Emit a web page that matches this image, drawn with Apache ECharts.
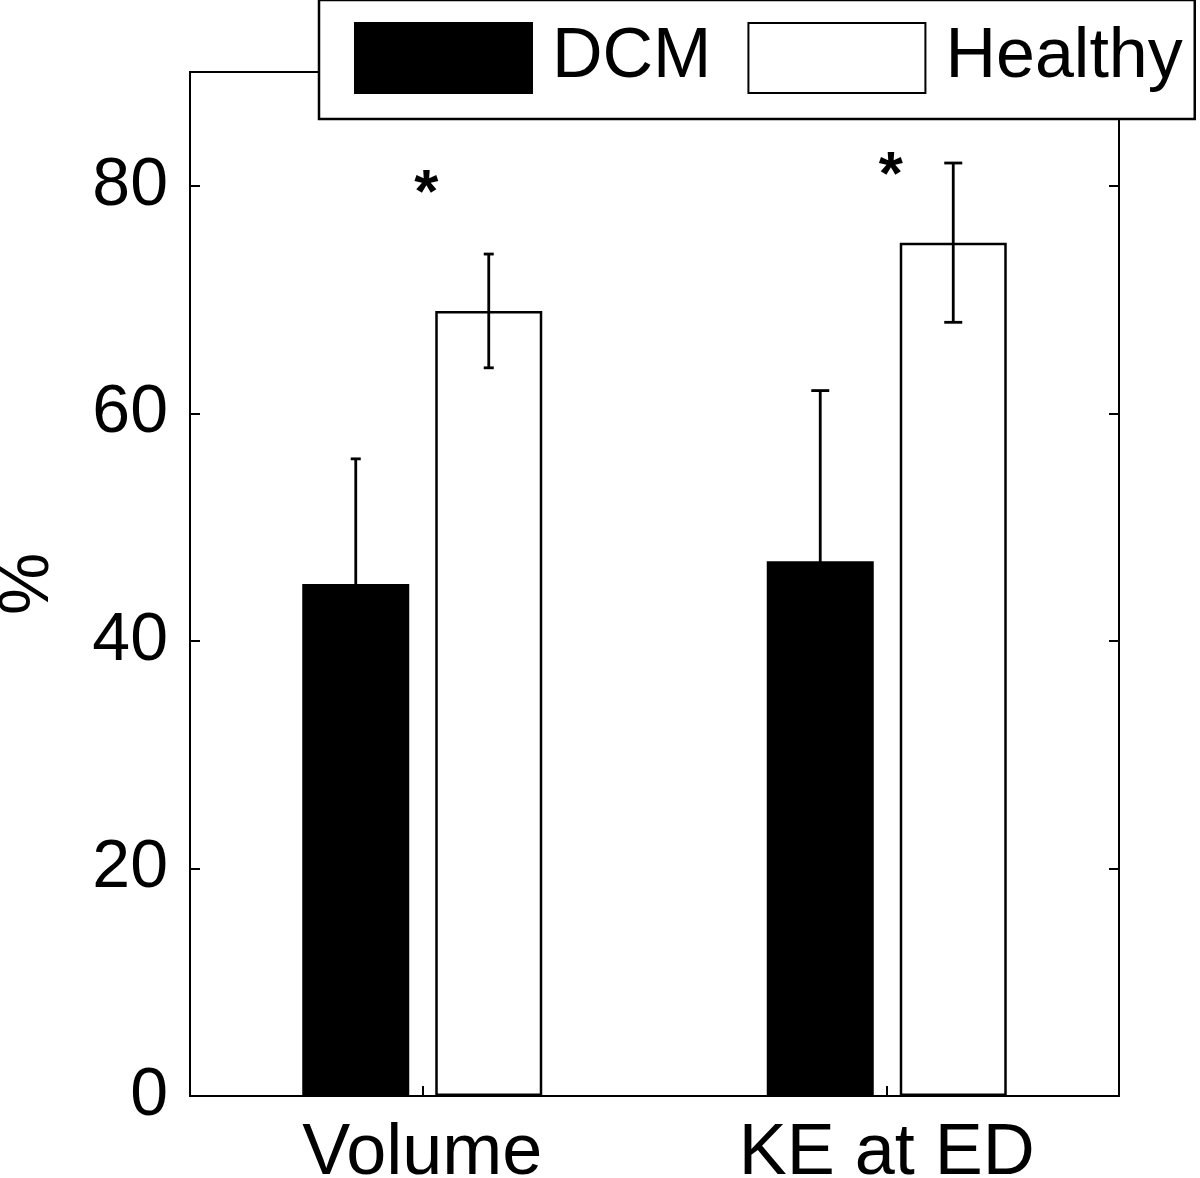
<!DOCTYPE html>
<html>
<head>
<meta charset="utf-8">
<script src="https://cdn.jsdelivr.net/npm/echarts@6/dist/echarts.min.js"></script>
<style>html,body{margin:0;padding:0;background:#fff}#c{width:1200px;height:1178px}</style>
</head>
<body>
<div id="c"></div>
<script>
const categories = ['Volume', 'KE at ED'];
const dcmMean = [45, 47];
const dcmSD = [11, 15];
const healthyMean = [69, 75];
const healthySD = [5, 7];
const sigMarks = ['*', '*'];
const sigY = [80, 81.6];
const yTicks = [0, 20, 40, 60, 80];

const FONT = "'Liberation Sans', Arial, sans-serif";
const BAR_W = 107, GAP_PX = 26;
const HALF_OFF = (BAR_W + GAP_PX) / 2;
const capHalf = [5, 9];

const chart = echarts.init(document.getElementById('c'), null, {renderer: 'canvas'});

function errItem(offsetSign) {
  return function (params, api) {
    const i = api.value(0);
    const m = api.value(1), s = api.value(2);
    const top = api.coord([i, m + s]);
    const bot = api.coord([i, m - s]);
    const x = top[0] + offsetSign * HALF_OFF;
    const c = capHalf[params.dataIndex];
    const st = {stroke: '#000', lineWidth: 2.8};
    return {type: 'group', children: [
      {type: 'line', shape: {x1: x, y1: top[1], x2: x, y2: bot[1]}, style: st},
      {type: 'line', shape: {x1: x - c, y1: top[1], x2: x + c, y2: top[1]}, style: st},
      {type: 'line', shape: {x1: x - c, y1: bot[1], x2: x + c, y2: bot[1]}, style: st}
    ]};
  };
}

const axisFont = {fontFamily: FONT, fontSize: 68, color: '#000'};

chart.setOption({
  animation: false,
  backgroundColor: '#fff',
  grid: {left: 190, right: 81, top: 72, bottom: 82, show: true, borderColor: '#000', borderWidth: 2,
    backgroundColor: 'transparent', containLabel: false, outerBoundsMode: 'none'},
  legend: {
    orient: 'horizontal',
    left: 319, top: 0, width: 1000,
    padding: [22, 12, 25, 35],
    itemWidth: 177, itemHeight: 70, itemGap: 36,
    icon: 'rect',
    borderColor: '#000', borderWidth: 2.5,
    backgroundColor: '#fff',
    z: 20,
    textStyle: {fontFamily: FONT, fontSize: 70, color: '#000', padding: [0, 0, 0, 15]},
    data: ['DCM', 'Healthy']
  },
  xAxis: {
    type: 'category', data: categories,
    axisLine: {show: true, lineStyle: {color: '#000', width: 2}},
    axisTick: {show: true, inside: true, alignWithLabel: true, length: 10, lineStyle: {color: '#000', width: 2}},
    axisLabel: {margin: 22, fontFamily: FONT, fontSize: 72, color: '#000'},
    splitLine: {show: false}
  },
  yAxis: [{
    type: 'value', min: 0, max: 90, interval: 20,
    name: '%', nameLocation: 'middle', nameGap: 126, nameRotate: 90,
    nameTextStyle: {fontFamily: FONT, fontSize: 70, color: '#000'},
    axisLine: {show: true, lineStyle: {color: '#000', width: 2}},
    axisTick: {show: true, inside: true, length: 10, lineStyle: {color: '#000', width: 2}},
    axisLabel: Object.assign({margin: 22, showMaxLabel: false,
      formatter: v => yTicks.indexOf(v) >= 0 ? String(v) : ''}, axisFont),
    splitLine: {show: false}
  }, {
    type: 'value', min: 0, max: 90, interval: 20, position: 'right',
    axisLine: {show: true, lineStyle: {color: '#000', width: 2}},
    axisTick: {show: true, inside: true, length: 10, lineStyle: {color: '#000', width: 2}},
    axisLabel: {show: false},
    splitLine: {show: false}
  }],
  series: [
    {name: 'DCM', type: 'bar', data: dcmMean, barWidth: BAR_W, barGap: (GAP_PX / BAR_W * 100) + '%',
     itemStyle: {color: '#000', borderColor: '#000', borderWidth: 2.5}, z: 2},
    {name: 'Healthy', type: 'bar', data: healthyMean, barWidth: BAR_W,
     itemStyle: {color: '#fff', borderColor: '#000', borderWidth: 2.5}, z: 2},
    {type: 'custom', renderItem: errItem(-1), z: 5,
     data: dcmMean.map((m, i) => [i, m, dcmSD[i]])},
    {type: 'custom', renderItem: errItem(1), z: 5,
     data: healthyMean.map((m, i) => [i, m, healthySD[i]])},
    {type: 'custom', z: 6,
     renderItem: function (params, api) {
       const p = api.coord([api.value(0), api.value(1)]);
       return {type: 'text', style: {text: sigMarks[params.dataIndex], x: p[0] + 4, y: p[1] + 9,
         fontFamily: FONT, fontSize: 62, fontWeight: 'bold', fill: '#000', align: 'center', verticalAlign: 'middle'}};
     },
     data: sigY.map((y, i) => [i, y])}
  ]
});
</script>
</body>
</html>
